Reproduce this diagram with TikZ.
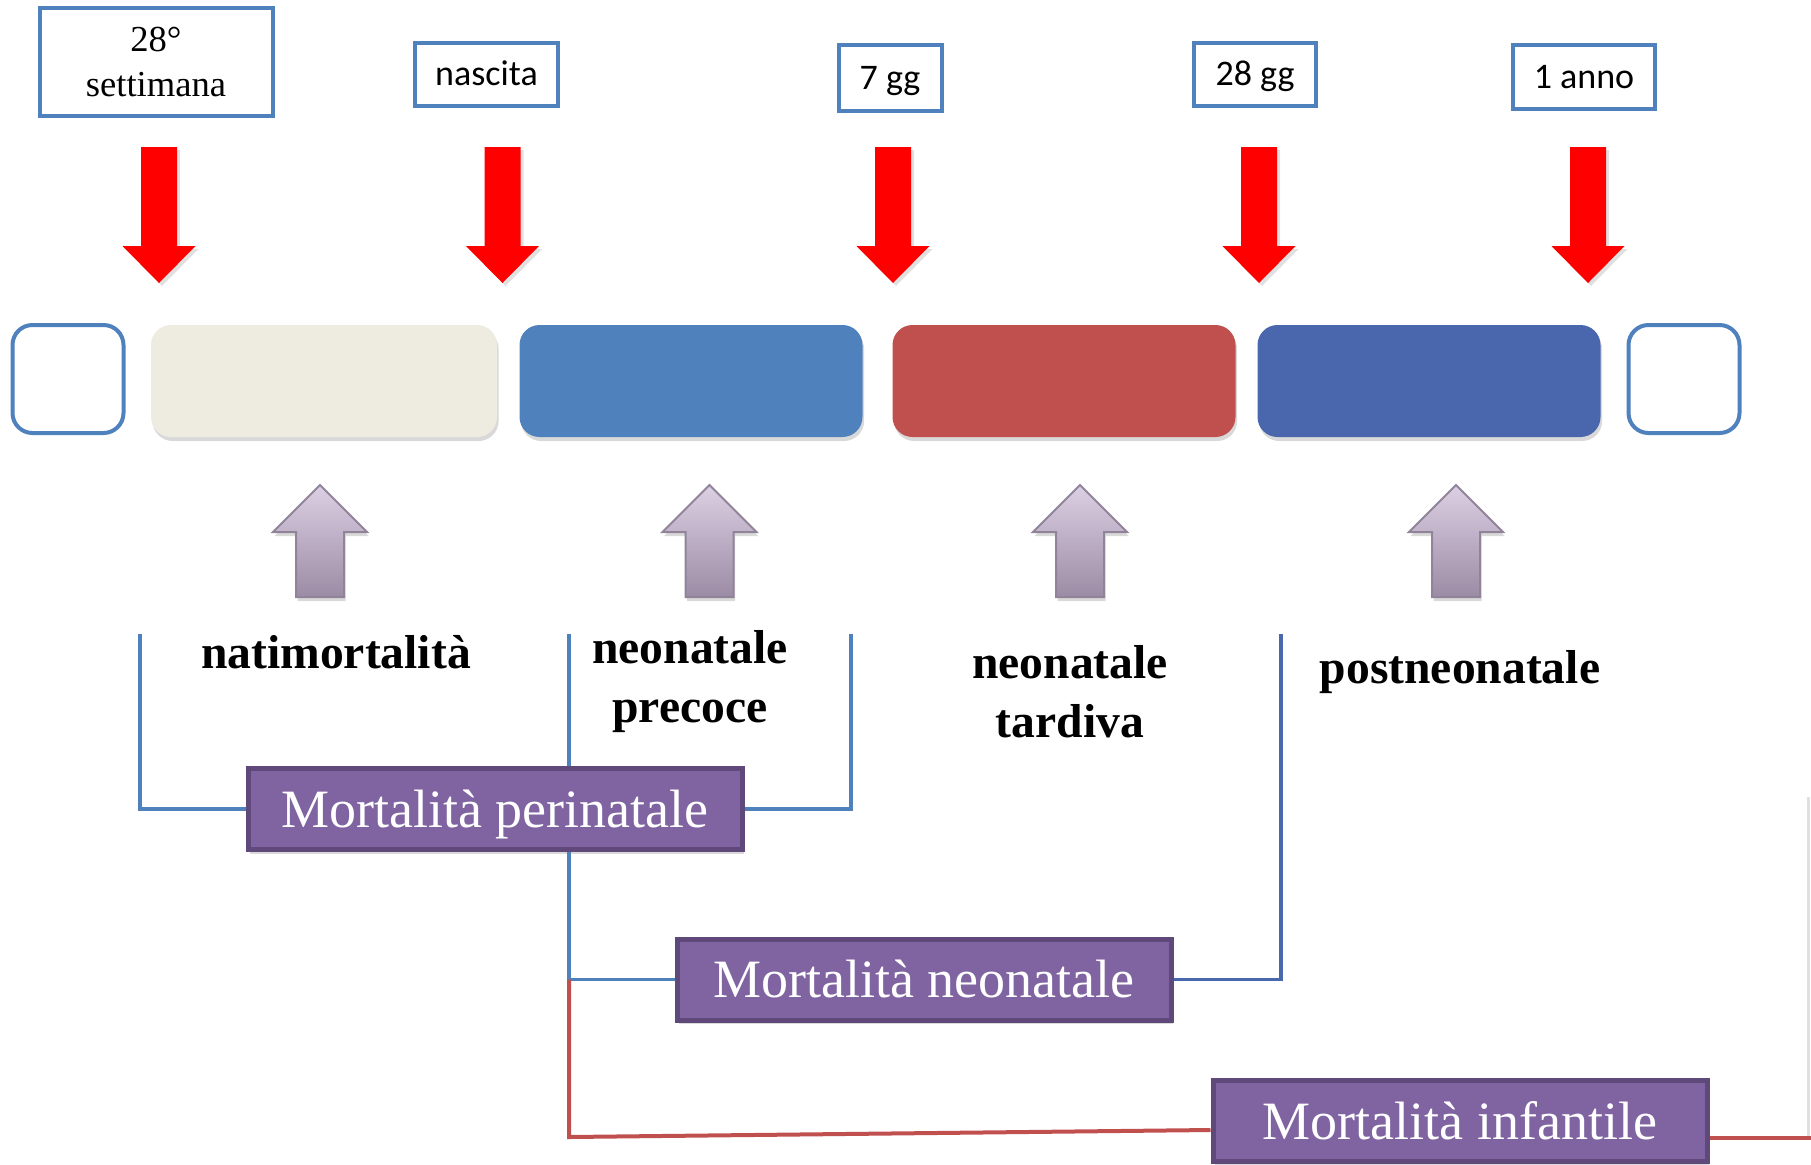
\documentclass[tikz,border=0pt]{standalone}
\usepackage{fontspec}
\setmainfont{Liberation Serif}
\newfontfamily\calibrifont{Carlito}
\usetikzlibrary{shadows}

\definecolor{boxblue}{HTML}{4F81BD}
\definecolor{segbeige}{HTML}{EEECE1}
\definecolor{segblue}{HTML}{4F81BD}
\definecolor{segred}{HTML}{C0504D}
\definecolor{segdark}{HTML}{4A66AC}
\definecolor{mortfill}{HTML}{8064A2}
\definecolor{mortdraw}{HTML}{5F497A}
\definecolor{uptop}{HTML}{DCD0E4}
\definecolor{upbot}{HTML}{9C8BA4}
\definecolor{updraw}{HTML}{918499}
\definecolor{linkblue}{HTML}{4F81BD}
\definecolor{linkdark}{HTML}{4A68AE}
\definecolor{linkred}{HTML}{C0504D}

\begin{document}
\begin{tikzpicture}[x=0.5pt,y=-0.5pt]

\tikzset{softshadow/.style = {drop shadow={shadow xshift=0.8pt, shadow yshift=-2pt, opacity=0.25, fill=black!60}},
         datebox/.style    = {draw=boxblue, line width=2pt, fill=white, inner sep=0pt,
                              font=\calibrifont\fontsize{18}{22}\selectfont, text height=11.2pt, text depth=0pt},
         weekbox/.style    = {draw=boxblue, line width=2pt, fill=white, inner sep=0pt, align=center,
                              font=\fontsize{18.3}{22.5}\selectfont},
         endbox/.style     = {draw=boxblue, line width=2pt, fill=white, rounded corners=10pt,
                              minimum width=55.5pt, minimum height=54pt, inner sep=0pt},
         segment/.style    = {rounded corners=10pt, minimum width=171.5pt, minimum height=56pt,
                              inner sep=0pt, softshadow},
         mortbox/.style    = {draw=mortdraw, fill=mortfill, line width=2.5pt, text=white, inner sep=0pt,
                              minimum width=247pt, minimum height=40.5pt, softshadow,
                              font=\fontsize{27}{32}\selectfont, text height=18.4pt, text depth=0pt},
         lbl/.style        = {align=center, inner sep=0pt, font=\bfseries\fontsize{23.8}{29.5}\selectfont},
         redarr/.style     = {fill=red, drop shadow={shadow xshift=1.5pt, shadow yshift=-1.5pt, opacity=0.2, fill=black!60}},
         uparr/.style      = {draw=updraw, line width=1pt, top color=uptop, bottom color=upbot, softshadow},
         bluelink/.style   = {draw=linkblue, line width=1.8pt},
         darklink/.style   = {draw=linkdark, line width=1.8pt},
         redlink/.style    = {draw=linkred, line width=2pt}}

\useasboundingbox (0,0) rectangle (1811,1164);

\node[weekbox, minimum width=116.5pt, minimum height=54pt] (sett) at (156,62) {28°\\settimana};
\node[datebox, minimum width=71.5pt, minimum height=31.5pt] (nasc) at (486.5,74.5) {nascita};
\node[datebox, minimum width=51.5pt, minimum height=33pt] (gg7) at (890,78) {7 gg};
\node[datebox, minimum width=61pt, minimum height=31.5pt] (gg28) at (1255,74.5) {28 gg};
\node[datebox, minimum width=71pt, minimum height=32pt] (anno) at (1584,77) {1 anno};

\fill[redarr] (141,147) -- (177,147) -- (177,246) -- (195.5,246) -- (159,283) -- (122.5,246) -- (141,246) -- cycle;
\fill[redarr] (484.5,147) -- (520.5,147) -- (520.5,246) -- (539,246) -- (502.5,283) -- (466,246) -- (484.5,246) -- cycle;
\fill[redarr] (875,147) -- (911,147) -- (911,246) -- (929.5,246) -- (893,283) -- (856.5,246) -- (875,246) -- cycle;
\fill[redarr] (1241,147) -- (1277,147) -- (1277,246) -- (1295.5,246) -- (1259,283) -- (1222.5,246) -- (1241,246) -- cycle;
\fill[redarr] (1570,147) -- (1606,147) -- (1606,246) -- (1624.5,246) -- (1588,283) -- (1551.5,246) -- (1570,246) -- cycle;

\node[endbox] (startbox) at (68,379) {};
\node[segment, fill=segbeige, minimum width=173pt] (nati) at (324,381) {};
\node[segment, fill=segblue] (early) at (691,381) {};
\node[segment, fill=segred] (late) at (1064,381) {};
\node[segment, fill=segdark] (post) at (1429,381) {};
\node[endbox] (endbox) at (1684,379) {};

\draw[uparr] (320,485) -- (367,532) -- (344,532) -- (344,597) -- (296,597) -- (296,532) -- (273,532) -- cycle;
\draw[uparr] (709.5,485) -- (756.5,532) -- (733.5,532) -- (733.5,597) -- (685.5,597) -- (685.5,532) -- (662.5,532) -- cycle;
\draw[uparr] (1080,485) -- (1127,532) -- (1104,532) -- (1104,597) -- (1056,597) -- (1056,532) -- (1033,532) -- cycle;
\draw[uparr] (1456,485) -- (1503,532) -- (1480,532) -- (1480,597) -- (1432,597) -- (1432,532) -- (1409,532) -- cycle;

\node[lbl, anchor=base] (natim) at (336,668) {natimortalità};
\node[lbl, anchor=base] (neoprec) at (690,722) {neonatale\\precoce};
\node[lbl, anchor=base] (neotard) at (1070,737) {neonatale\\tardiva};
\node[lbl, anchor=base] (postneo) at (1460,683) {postneonatale};

\node[mortbox] (peri) at (495,809) {Mortalità perinatale};
\node[mortbox] (neo) at (924,979.5) {Mortalità neonatale};
\node[mortbox] (infant) at (1460,1121) {Mortalità infantile};

\coordinate (t1) at (140,634);
\coordinate (t2) at (569,634);
\coordinate (t3) at (851,634);
\coordinate (t4) at (1281,634);
\coordinate (rc) at (569,1137);
\coordinate (re) at (1811,1138);
\coordinate (rv) at (1808,1136);
\coordinate (rt) at (1808,797);

\draw[bluelink] (t1) |- (peri.west);
\draw[bluelink] (t2) -- (t2 |- peri.north);
\draw[bluelink] (t3) |- (peri.east);
\draw[bluelink] (t2 |- peri.south) |- (neo.west);
\draw[darklink] (neo.east) -| (t4);

\draw[redlink] (t2 |- neo.west) -- (rc) -- ([yshift=-4.5pt]infant.west);
\draw[redlink] ([yshift=-8.5pt]infant.east) -- (re);
\draw[black!12, line width=1.5pt] (rv) -- (rt);

\end{tikzpicture}
\end{document}
